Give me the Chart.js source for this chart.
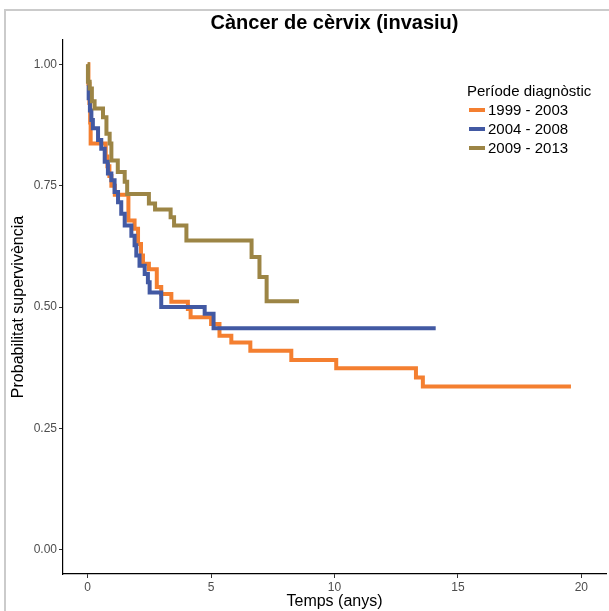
<!DOCTYPE html>
<html>
<head>
<meta charset="utf-8">
<script src="https://cdn.jsdelivr.net/npm/chart.js@4"></script>
<style>
    html, body { margin: 0; padding: 0; background: #fff; }
    #wrap { position: relative; width: 609px; height: 611px; }
    #frame {
        position: absolute; left: 4px; top: 9px; right: 0; bottom: 0;
        border-left: 2px solid #cbcbcb; border-top: 2px solid #cbcbcb;
        pointer-events: none;
    }
</style>
</head>
<body>
<div id="wrap">
    <canvas id="km" width="609" height="611"></canvas>
    <div id="frame"></div>
</div>
<script>
// Kaplan-Meier steps: time (years) and survival after each drop
const seriesLabels = ['1999 - 2003', '2004 - 2008', '2009 - 2013'];
const seriesColors = ['#f47f30', '#4259a3', '#9c8545'];

const t1999 = [0, 0.03, 0.07, 0.1, 0.12, 0.73, 0.8, 0.88, 0.96, 1.1, 1.65, 1.9, 2.04, 2.16, 2.24, 2.48, 2.8, 2.98, 3.39, 4.06, 4.17, 5.0, 5.34, 5.82, 6.59, 8.25, 10.07, 13.3, 13.58, 19.58];
const s1999 = [1, 0.96, 0.92, 0.88, 0.837, 0.81, 0.79, 0.77, 0.75, 0.731, 0.678, 0.661, 0.63, 0.606, 0.589, 0.578, 0.541, 0.527, 0.511, 0.496, 0.479, 0.465, 0.441, 0.427, 0.41, 0.391, 0.374, 0.355, 0.336, 0.336];

const t2004 = [0, 0.04, 0.09, 0.15, 0.21, 0.42, 0.55, 0.69, 0.82, 0.96, 1.09, 1.23, 1.36, 1.5, 1.77, 1.9, 1.97, 2.1, 2.31, 2.44, 2.51, 2.98, 4.74, 5.1, 14.1];
const s2004 = [0.957, 0.93, 0.905, 0.885, 0.868, 0.844, 0.826, 0.799, 0.775, 0.761, 0.737, 0.716, 0.692, 0.668, 0.647, 0.627, 0.606, 0.585, 0.568, 0.551, 0.53, 0.5, 0.486, 0.456, 0.456];

const t2009 = [0, 0.01, 0.08, 0.17, 0.28, 0.62, 0.76, 0.89, 0.96, 1.22, 1.5, 1.6, 2.48, 2.73, 3.36, 3.5, 4.0, 6.64, 6.96, 7.25, 8.56];
const s2009 = [1, 0.964, 0.95, 0.924, 0.909, 0.891, 0.857, 0.837, 0.802, 0.778, 0.758, 0.733, 0.713, 0.701, 0.685, 0.668, 0.637, 0.603, 0.562, 0.512, 0.512];

const xTicks = [0, 5, 10, 15, 20];
const yTicks = [0, 0.25, 0.5, 0.75, 1];

const FONT = 'Liberation Sans, Arial, Helvetica, sans-serif';

function toPoints(ts, ss) {
    return ts.map((t, i) => ({ x: t, y: ss[i] }));
}

// title + legend drawn straight on the canvas
const annotate = {
    id: 'annotate',
    afterDraw(chart) {
        const ctx = chart.ctx;
        const area = chart.chartArea;
        ctx.save();
        ctx.fillStyle = '#000';
        ctx.font = 'bold 20px ' + FONT;
        ctx.textAlign = 'center';
        ctx.textBaseline = 'middle';
        ctx.fillText('Càncer de cèrvix (invasiu)', (area.left + area.right) / 2, 23);

        ctx.textAlign = 'left';
        ctx.font = '15px ' + FONT;
        ctx.fillText('Període diagnòstic', 467, 92);
        seriesLabels.forEach((lab, i) => {
            const y = 110 + i * 19;
            ctx.strokeStyle = seriesColors[i];
            ctx.lineWidth = 4;
            ctx.beginPath();
            ctx.moveTo(469, y);
            ctx.lineTo(485, y);
            ctx.stroke();
            ctx.fillText(lab, 488, y + 1);
        });
        ctx.restore();
    }
};

const ctx = document.getElementById('km').getContext('2d');
const chart = new Chart(ctx, {
    type: 'line',
    data: {
        datasets: [
            { label: seriesLabels[0], data: toPoints(t1999, s1999), borderColor: seriesColors[0], order: 3 },
            { label: seriesLabels[1], data: toPoints(t2004, s2004), borderColor: seriesColors[1], order: 2 },
            { label: seriesLabels[2], data: toPoints(t2009, s2009), borderColor: seriesColors[2], order: 1 }
        ]
    },
    options: {
        responsive: false,
        animation: false,
        events: [],
        layout: { padding: { top: 40, right: 3, bottom: 0, left: 0 } },
        elements: {
            line: { stepped: 'before', borderWidth: 4, fill: false, borderCapStyle: 'butt', borderJoinStyle: 'miter', tension: 0 },
            point: { radius: 0 }
        },
        plugins: {
            legend: { display: false },
            title: { display: false },
            tooltip: { enabled: false }
        },
        scales: {
            x: {
                type: 'linear',
                min: -1,
                max: 21,
                afterBuildTicks: s => { s.ticks = xTicks.map(v => ({ value: v })); },
                afterFit: s => { s.height = 37; },
                border: { display: true, color: '#000', width: 1.2 },
                grid: { drawOnChartArea: false, drawTicks: true, tickLength: 4, color: '#333', tickWidth: 1 },
                ticks: { color: '#4d4d4d', font: { family: FONT, size: 12 }, padding: 2, maxRotation: 0 },
                title: { display: true, text: 'Temps (anys)', color: '#000', font: { family: FONT, size: 16 }, padding: { top: 0, bottom: 0 } }
            },
            y: {
                type: 'linear',
                min: -0.05,
                max: 1.05,
                afterBuildTicks: s => { s.ticks = yTicks.map(v => ({ value: v })); },
                afterFit: s => { s.width = 63; },
                border: { display: true, color: '#000', width: 1.2 },
                grid: { drawOnChartArea: false, drawTicks: true, tickLength: 4, color: '#333', tickWidth: 1 },
                ticks: { color: '#4d4d4d', font: { family: FONT, size: 12 }, padding: 2, callback: v => v.toFixed(2) },
                title: { display: true, text: 'Probabilitat supervivència', color: '#000', font: { family: FONT, size: 16 }, padding: { top: 9, bottom: 0 } }
            }
        }
    },
    plugins: [annotate]
});
</script>
</body>
</html>
